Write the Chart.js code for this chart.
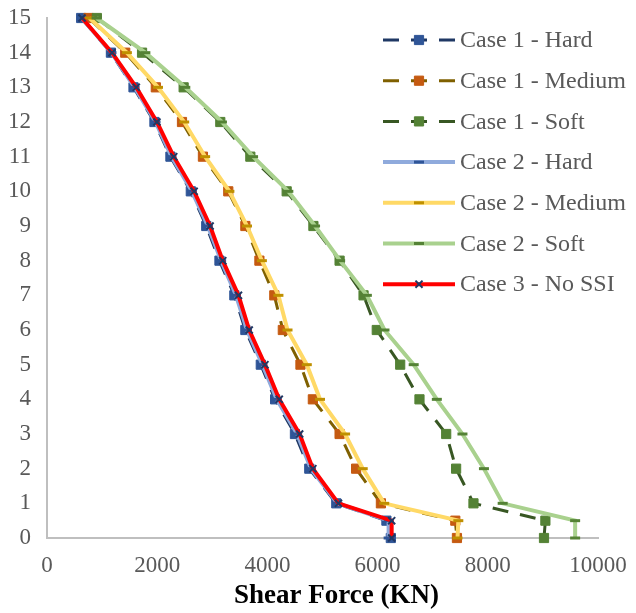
<!DOCTYPE html>
<html lang="en">
<head>
<meta charset="UTF-8">
<title>Shear Force</title>
<script src="https://cdn.jsdelivr.net/npm/chart.js"></script>
<style>
    html, body { margin: 0; padding: 0; background: #ffffff; }
    .chart-box { width: 636px; height: 613px; }
</style>
</head>
<body>
<div class="chart-box"><canvas id="shearChart"></canvas></div>
<script>
// story levels (y) and shear force per series (x, KN)
const storyLevels = [15, 14, 13, 12, 11, 10, 9, 8, 7, 6, 5, 4, 3, 2, 1, 0.5, 0];
const case1Hard   = [620, 1160, 1570, 1950, 2240, 2610, 2890, 3130, 3400, 3600, 3880, 4140, 4500, 4760, 5250, 6160, 6240];
const case1Medium = [755, 1420, 1975, 2450, 2830, 3290, 3600, 3855, 4125, 4280, 4600, 4825, 5310, 5610, 6060, 7410, 7440];
const case1Soft   = [905, 1725, 2480, 3145, 3690, 4350, 4835, 5310, 5745, 5985, 6410, 6760, 7245, 7425, 7740, 9045, 9020];
const case2Hard   = [630, 1170, 1590, 1970, 2260, 2630, 2920, 3160, 3430, 3630, 3910, 4170, 4540, 4790, 5270, 6200, 6200];
const case2Medium = [770, 1450, 2015, 2490, 2870, 3310, 3630, 3900, 4200, 4365, 4715, 4955, 5410, 5730, 6120, 7465, 7450];
const case2Soft   = [900, 1785, 2510, 3175, 3740, 4380, 4865, 5320, 5805, 6125, 6655, 7075, 7540, 7930, 8270, 9585, 9585];
const case3NoSSI  = [635, 1180, 1620, 1995, 2300, 2670, 2960, 3190, 3475, 3670, 3955, 4215, 4585, 4825, 5290, 6255, 6255];

const seriesLabels = ['Case 1 - Hard', 'Case 1 - Medium', 'Case 1 - Soft',
                      'Case 2 - Hard', 'Case 2 - Medium', 'Case 2 - Soft', 'Case 3 - No SSI'];
const xTickValues = [0, 2000, 4000, 6000, 8000, 10000];
const xAxisTitle = 'Shear Force (KN)';

const serif = '"Liberation Serif", "Times New Roman", serif';

function toPoints(values) {
    return values.map((v, i) => ({ x: v, y: storyLevels[i] }));
}

function dashedSeries(label, values, lineColor, markerColor) {
    return {
        label: label, data: toPoints(values), showLine: true, clip: false,
        borderColor: lineColor, backgroundColor: markerColor, borderWidth: 3, borderDash: [16, 12],
        pointStyle: 'rect', pointRadius: 6.5, pointBackgroundColor: markerColor,
        pointBorderColor: markerColor, pointBorderWidth: 1, tension: 0
    };
}

function solidSeries(label, values, lineColor, markerColor) {
    return {
        label: label, data: toPoints(values), showLine: true, clip: false,
        borderColor: lineColor, backgroundColor: markerColor, borderWidth: 4,
        pointStyle: 'line', pointRadius: 5, pointBorderColor: markerColor,
        pointBorderWidth: 3, tension: 0
    };
}

const datasets = [
    dashedSeries(seriesLabels[0], case1Hard, '#1F3864', '#2F5597'),
    dashedSeries(seriesLabels[1], case1Medium, '#7F6000', '#C55A11'),
    dashedSeries(seriesLabels[2], case1Soft, '#385723', '#548235'),
    solidSeries(seriesLabels[3], case2Hard, '#8FAADC', '#2F5597'),
    solidSeries(seriesLabels[4], case2Medium, '#FFD966', '#BF9000'),
    solidSeries(seriesLabels[5], case2Soft, '#A9D18E', '#548235'),
    {
        label: seriesLabels[6], data: toPoints(case3NoSSI), showLine: true, clip: false,
        borderColor: '#FF0000', backgroundColor: '#203864', borderWidth: 4,
        pointStyle: 'crossRot', pointRadius: 5, pointBorderColor: '#203864',
        pointBorderWidth: 2, tension: 0
    }
];
// later series drawn on top, like the spreadsheet
datasets.forEach((ds, i) => { ds.order = datasets.length - i; });

function drawMarker(ctx, ds, x, y) {
    ctx.save();
    ctx.setLineDash([]);
    ctx.strokeStyle = ds.pointBorderColor;
    ctx.fillStyle = ds.pointBackgroundColor || ds.pointBorderColor;
    ctx.lineWidth = ds.pointBorderWidth;
    const r = ds.pointRadius;
    ctx.beginPath();
    if (ds.pointStyle === 'rect') {
        const s = r * Math.SQRT1_2;
        ctx.rect(x - s, y - s, 2 * s, 2 * s);
        ctx.fill();
        ctx.stroke();
    } else if (ds.pointStyle === 'line') {
        ctx.moveTo(x - r, y);
        ctx.lineTo(x + r, y);
        ctx.stroke();
    } else {
        const s = r * Math.SQRT1_2;
        ctx.moveTo(x - s, y - s); ctx.lineTo(x + s, y + s);
        ctx.moveTo(x - s, y + s); ctx.lineTo(x + s, y - s);
        ctx.stroke();
    }
    ctx.restore();
}

// legend sits inside the plot, top right, line + marker like Excel
// the axis title is drawn here too, since Excel puts it a bit right of centre
const insideLegend = {
    id: 'insideLegend',
    afterDraw(chart) {
        const { ctx, chartArea } = chart;
        const lineStart = chartArea.right - 215;
        const lineLen = 72;
        const rowGap = 40.7;
        ctx.save();
        ctx.font = '24px ' + serif;
        ctx.textBaseline = 'middle';
        ctx.textAlign = 'left';
        chart.data.datasets.forEach((ds, i) => {
            const y = chartArea.top + 22 + i * rowGap;
            ctx.strokeStyle = ds.borderColor;
            ctx.lineWidth = ds.borderWidth;
            ctx.setLineDash(ds.borderDash || []);
            ctx.beginPath();
            ctx.moveTo(lineStart, y);
            ctx.lineTo(lineStart + lineLen, y);
            ctx.stroke();
            drawMarker(ctx, ds, lineStart + lineLen / 2, y);
            ctx.fillStyle = '#595959';
            ctx.fillText(ds.label, lineStart + lineLen + 5, y + 1);
        });

        ctx.font = 'bold 27px ' + serif;
        ctx.textAlign = 'center';
        ctx.fillStyle = '#000000';
        ctx.fillText(xAxisTitle, (chartArea.left + chartArea.right) / 2 + 14, chart.height - 17);
        ctx.restore();
    }
};

const chart = new Chart(document.getElementById('shearChart').getContext('2d'), {
    type: 'scatter',
    data: { datasets: datasets },
    options: {
        responsive: true,
        maintainAspectRatio: false,
        animation: false,
        devicePixelRatio: 1,
        layout: { autoPadding: false, padding: { left: 8, right: 38, top: 18, bottom: 1 } },
        plugins: {
            legend: { display: false },
            tooltip: { enabled: false }
        },
        scales: {
            x: {
                type: 'linear',
                min: 0,
                max: 10000,
                afterBuildTicks: (axis) => { axis.ticks = xTickValues.map(v => ({ value: v })); },
                afterFit: (axis) => { axis.height = 74; axis.paddingLeft = 0; axis.paddingRight = 0; },
                grid: { display: false, drawTicks: false },
                border: { display: true, color: '#BFBFBF', width: 2 },
                ticks: {
                    color: '#595959', padding: 14, font: { family: serif, size: 23 },
                    callback: (value) => String(value)
                }
            },
            y: {
                type: 'linear',
                min: 0,
                max: 15,
                afterFit: (axis) => { axis.width = 39; axis.paddingTop = 0; axis.paddingBottom = 0; },
                ticks: { stepSize: 1, color: '#595959', padding: 16, font: { family: serif, size: 23 } },
                grid: { display: false, drawTicks: false },
                border: { display: true, color: '#BFBFBF', width: 2 }
            }
        }
    },
    plugins: [insideLegend]
});
</script>
</body>
</html>
